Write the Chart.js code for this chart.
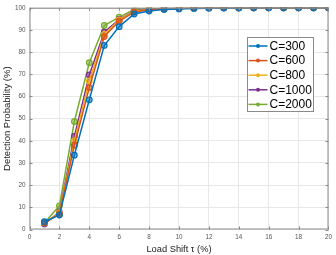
<!DOCTYPE html>
<html>
<head>
<meta charset="utf-8">
<script src="https://cdn.jsdelivr.net/npm/chart.js@4/dist/chart.umd.min.js"></script>
<style>
  html, body { margin: 0; padding: 0; background: #fff; }
  #wrap { width: 336px; height: 255px; position: relative; }
</style>
</head>
<body>
<div id="wrap"><canvas id="chart" width="336" height="255"></canvas></div>
<script>
// load shift tau (%)
const shifts = [1, 2, 3, 4, 5, 6, 7, 8, 9, 10, 11, 12, 13, 14, 15, 16, 17, 18, 19, 20];

const seriesNames = ['C=300', 'C=600', 'C=800', 'C=1000', 'C=2000'];
const seriesColors = ['#0072BD', '#D95319', '#EDB120', '#7E2F8E', '#77AC30'];

// detection probability (%)
const c300  = [3.5, 6.5, 33.5, 58.5, 83.0, 91.5, 97.2, 98.5, 99.2, 99.5, 99.7, 99.8, 99.9, 99.9, 100, 100, 100, 100, 100, 100];
const c600  = [3.0, 7.0, 38.0, 64.0, 87.0, 94.0, 98.0, 99.2, 99.6, 99.8, 99.9, 100, 100, 100, 100, 100, 100, 100, 100, 100];
const c800  = [3.0, 7.5, 40.0, 67.0, 88.0, 94.5, 98.3, 99.3, 99.6, 99.8, 99.9, 100, 100, 100, 100, 100, 100, 100, 100, 100];
const c1000 = [2.5, 7.8, 42.0, 69.7, 89.0, 94.8, 98.5, 99.4, 99.7, 99.8, 99.9, 100, 100, 100, 100, 100, 100, 100, 100, 100];
const c2000 = [3.0, 10.7, 48.7, 75.2, 92.0, 95.8, 99.2, 99.6, 99.8, 99.9, 100, 100, 100, 100, 100, 100, 100, 100, 100, 100];

const xTicks = [0, 2, 4, 6, 8, 10, 12, 14, 16, 18, 20];
const yTicks = [0, 10, 20, 30, 40, 50, 60, 70, 80, 90, 100];

const allSeries = [c300, c600, c800, c1000, c2000];

function toPoints(vals) {
  return shifts.map((x, i) => ({ x: x, y: vals[i] }));
}

// draws the box around the plot and the legend inside it, like matlab
const boxAndLegend = {
  id: 'boxAndLegend',
  afterDatasetsDraw(chart) {
    const ctx = chart.ctx;
    const a = chart.chartArea;
    ctx.save();
    ctx.strokeStyle = '#8a8a8a';
    ctx.lineWidth = 1;
    ctx.strokeRect(a.left + 0.5, a.top + 0.5, a.right - a.left - 1, a.bottom - a.top - 1);

    // inward ticks on all four sides
    const ys = chart.scales.y;
    yTicks.forEach(t => {
      const py = Math.round(ys.getPixelForValue(t)) + 0.5;
      ctx.beginPath();
      ctx.moveTo(a.right, py); ctx.lineTo(a.right - 3, py);
      ctx.moveTo(a.left, py); ctx.lineTo(a.left + 3, py);
      ctx.stroke();
    });
    const xs = chart.scales.x;
    xTicks.forEach(t => {
      const px = Math.round(xs.getPixelForValue(t)) + 0.5;
      ctx.beginPath();
      ctx.moveTo(px, a.top); ctx.lineTo(px, a.top + 3);
      ctx.moveTo(px, a.bottom); ctx.lineTo(px, a.bottom - 3);
      ctx.stroke();
    });

    // legend
    const lx = 247.5, ly = 37.5, lw = 66, lh = 74;
    ctx.fillStyle = '#fff';
    ctx.fillRect(lx, ly, lw, lh);
    ctx.strokeStyle = '#8a8a8a';
    ctx.strokeRect(lx, ly, lw, lh);
    ctx.font = '12px "Liberation Sans", Arial, sans-serif';
    ctx.textBaseline = 'middle';
    chart.data.datasets.forEach((ds, i) => {
      const cy = ly + 8.5 + i * 14.6;
      ctx.strokeStyle = ds.borderColor;
      ctx.lineWidth = 1.5;
      ctx.beginPath();
      ctx.moveTo(lx + 1, cy); ctx.lineTo(lx + 20, cy);
      ctx.stroke();
      ctx.fillStyle = ds.borderColor;
      ctx.beginPath();
      ctx.arc(lx + 10.5, cy, 2, 0, Math.PI * 2);
      ctx.fill();
      ctx.fillStyle = '#000';
      ctx.fillText(ds.label, lx + 22, cy + 0.5);
    });
    ctx.restore();
  }
};

new Chart(document.getElementById('chart'), {
  type: 'line',
  data: {
    datasets: allSeries.map((vals, i) => ({
      label: seriesNames[i],
      data: toPoints(vals),
      borderColor: seriesColors[i],
      backgroundColor: seriesColors[i] + '99',
      pointBackgroundColor: seriesColors[i] + '88',
      pointBorderColor: seriesColors[i],
      pointRadius: 2.8,
      pointBorderWidth: 1.2,
      borderWidth: 1.5,
      tension: 0
    }))
  },
  options: {
    responsive: false,
    animation: false,
    layout: { padding: { top: 5, right: 7, left: 0, bottom: 0 } },
    plugins: {
      legend: { display: false },
      tooltip: { enabled: false }
    },
    scales: {
      x: {
        type: 'linear',
        min: 0,
        max: 20,
        afterBuildTicks: s => { s.ticks = xTicks.map(v => ({ value: v })); },
        grid: { color: '#e8e8e8', drawTicks: false },
        border: { display: false },
        ticks: { color: '#555', font: { size: 6.3, family: '"Liberation Sans", Arial, sans-serif' }, padding: 4, maxRotation: 0 },
        title: {
          display: true,
          text: 'Load Shift \u03c4 (%)',
          color: '#222',
          font: { size: 9.3, family: '"Liberation Sans", Arial, sans-serif' },
          padding: { top: 0, bottom: 0 }
        },
        afterFit: s => { s.height = 25.5; }
      },
      y: {
        min: 0,
        max: 100,
        afterBuildTicks: s => { s.ticks = yTicks.map(v => ({ value: v })); },
        grid: { color: '#e8e8e8', drawTicks: false },
        border: { display: false },
        ticks: { color: '#555', font: { size: 6.3, family: '"Liberation Sans", Arial, sans-serif' }, padding: 4 },
        title: {
          display: true,
          text: 'Detection Probability (%)',
          color: '#222',
          font: { size: 9.5, family: '"Liberation Sans", Arial, sans-serif' },
          padding: { top: 2, bottom: 2 }
        },
        afterFit: s => { s.width = 29.5; }
      }
    }
  },
  plugins: [boxAndLegend]
});
</script>
</body>
</html>
